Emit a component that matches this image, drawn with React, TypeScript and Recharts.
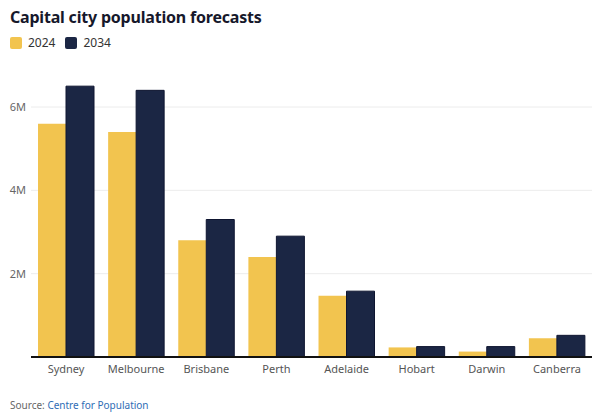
import { Bar, BarChart, CartesianGrid, XAxis, YAxis } from "recharts";

const CITIES = ["Sydney", "Melbourne", "Brisbane", "Perth", "Adelaide", "Hobart", "Darwin", "Canberra"];
const POP_2024 = [5.6, 5.4, 2.8, 2.4, 1.47, 0.23, 0.13, 0.45];
const POP_2034 = [6.5, 6.4, 3.3, 2.9, 1.58, 0.25, 0.25, 0.52];
const Y_TICKS = [0, 2, 4, 6];

const YELLOW = "#F2C44F";
const NAVY = "#1B2644";
const FONT = "'Noto Sans', sans-serif";

const data = CITIES.map((city, i) => ({
  city,
  y2024: POP_2024[i] * 1e6,
  y2034: POP_2034[i] * 1e6,
}));

export default function App() {
  return (
    <div
      style={{
        position: "absolute",
        top: 0,
        left: 0,
        width: 602,
        height: 417,
        background: "#fff",
        fontFamily: FONT,
      }}
    >
      <div
        style={{
          position: "absolute",
          left: 10,
          top: 6,
          fontSize: 16,
          fontWeight: 700,
          color: "#16182b",
          letterSpacing: -0.2,
        }}
      >
        Capital city population forecasts
      </div>
      <div
        style={{
          position: "absolute",
          left: 10,
          top: 34,
          display: "flex",
          alignItems: "center",
          fontSize: 12,
          color: "#333",
        }}
      >
        <span style={{ width: 12, height: 12, background: YELLOW, borderRadius: 2, marginRight: 6 }} />
        <span style={{ marginRight: 10 }}>2024</span>
        <span style={{ width: 12, height: 12, background: NAVY, borderRadius: 2, marginRight: 6 }} />
        <span>2034</span>
      </div>

      <BarChart
        width={602}
        height={417}
        data={data}
        margin={{ top: 82, right: 10, bottom: 30, left: 0 }}
        barCategoryGap="10%"
        barGap={0}
        style={{ position: "absolute", top: 0, left: 0 }}
      >
        <CartesianGrid vertical={false} stroke="#ececec" horizontalValues={[2e6, 4e6, 6e6]} />
        <XAxis
          dataKey="city"
          height={30}
          tickLine={false}
          tickSize={0}
          tickMargin={8}
          axisLine={{ stroke: "#111", strokeWidth: 2 }}
          tick={{ fill: "#555", fontSize: 11, fontFamily: FONT }}
          interval={0}
        />
        <YAxis
          width={31}
          domain={[0, 6.6e6]}
          ticks={Y_TICKS.map((t) => t * 1e6)}
          tickFormatter={(v: number) => (v === 0 ? "" : `${v / 1e6}M`)}
          axisLine={false}
          tickLine={false}
          tickSize={0}
          tickMargin={5}
          tick={{ fill: "#666", fontSize: 11, fontFamily: FONT }}
        />
        <Bar dataKey="y2024" fill={YELLOW} isAnimationActive={false} />
        <Bar dataKey="y2034" fill={NAVY} stroke="#0e1530" strokeWidth={1} isAnimationActive={false} />
      </BarChart>

      <div style={{ position: "absolute", left: 10, top: 398, fontSize: 10, color: "#666" }}>
        Source: <span style={{ color: "#2f6db5" }}>Centre for Population</span>
      </div>
    </div>
  );
}
